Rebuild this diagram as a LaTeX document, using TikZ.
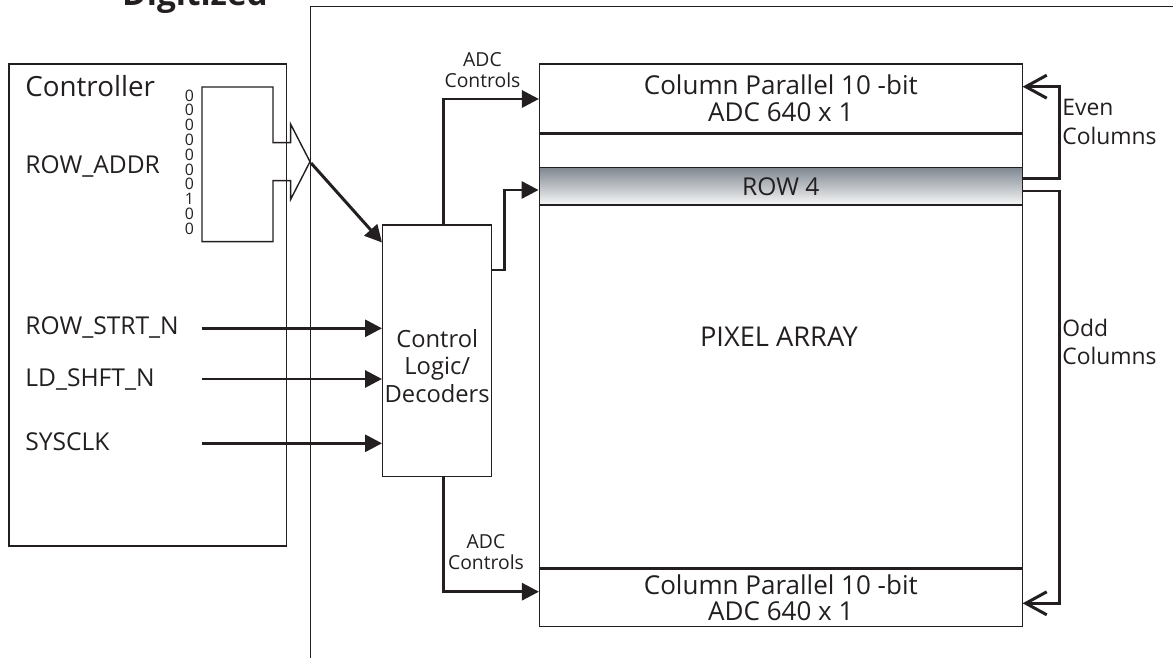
\documentclass[tikz,border=0pt]{standalone}
\usepackage{fontspec}
\setmainfont{Open Sans}
\usepackage{tikz}
\usetikzlibrary{positioning,arrows.meta}
\definecolor{rowgray}{RGB}{128,136,145}
\definecolor{ink}{RGB}{35,31,32}

\begin{document}
\begin{tikzpicture}[
    color=ink,
    blk/.style={draw=ink, line width=0.8pt, inner sep=0pt},
    sig/.style={line width=1.7pt, -{Triangle[length=0.34cm,width=0.34cm]}},
    colsig/.style={line width=1.7pt, -{Straight Barb[length=0.42cm,width=0.46cm]}},
    lbl/.style={anchor=west, inner sep=0pt, font=\fontsize{14}{17}\selectfont},
    small/.style={align=center, inner sep=0pt, font=\fontsize{11}{12}\selectfont},
    mid/.style={align=center, inner sep=0pt, font=\fontsize{14.8}{15}\selectfont}]
    \useasboundingbox (0,0) rectangle (23.46,13.16);

    \node[anchor=base, inner sep=0pt, font=\fontsize{19}{22}\selectfont\bfseries] (title) at (3.9,13.04) {Digitized};
    \draw[line width=0.9pt] (6.21,-0.2) -- (6.21,13.03) -- (23.7,13.03);

    % controller side
    \node[blk, minimum width=5.55cm, minimum height=9.64cm] (ctrl) at (2.955,7.06) {};
    \node[lbl, font=\fontsize{15.8}{18}\selectfont] (ctrlname) at (0.5,11.43) {Controller};
    \node[lbl] (addr) at (0.5,9.84) {ROW\_ADDR};
    \node[lbl] (rowstrt) at (0.5,6.62) {ROW\_STRT\_N};
    \node[lbl] (ldshft) at (0.5,5.57) {LD\_SHFT\_N};
    \node[lbl] (sysclk) at (0.5,4.33) {SYSCLK};
    \node[align=center, inner sep=0pt, font=\fontsize{9}{8.4}\selectfont] (bits) at (3.79,9.92)
        {0\\0\\0\\0\\0\\0\\0\\1\\0\\0};
    \draw[line width=0.8pt] (4.04,11.42) -- (5.46,11.42) -- (5.46,10.306) -- (5.814,10.306)
        -- (5.814,10.674) -- (6.20,9.926) -- (5.814,9.174) -- (5.814,9.546) -- (5.46,9.546)
        -- (5.46,8.326) -- (4.04,8.326) -- cycle;
    \coordinate (bustip) at (6.22,9.90);

    % control logic
    \node[blk, minimum width=2.18cm, minimum height=5.034cm] (logic) at (8.744,6.143) {};
    \node[align=center, inner sep=0pt, font=\fontsize{13.5}{15.6}\selectfont] (logictxt) at (8.744,5.84)
        {Control\\Logic/\\Decoders};
    \draw[sig] (bustip) -- (logic.117.6);
    \coordinate (rsin) at (4.034,6.594);
    \coordinate (ldin) at (4.034,5.58);
    \coordinate (clkin) at (4.034,4.294);
    \draw[sig] (rsin) -- (rsin -| logic.west);
    \draw[sig] (ldin) -- (ldin -| logic.west);
    \draw[sig] (clkin) -- (clkin -| logic.west);

    % pixel array
    \node[blk, minimum width=9.66cm, minimum height=11.254cm] (pix) at (15.616,6.253) {};
    \node[mid, minimum width=9.66cm, minimum height=1.374cm] (adctop) at (15.616,11.193)
        {Column Parallel 10 -bit\\ADC 640 x 1};
    \node[mid, minimum width=9.66cm, minimum height=1.148cm] (adcbot) at (15.616,1.2)
        {Column Parallel 10 -bit\\ADC 640 x 1};
    \draw[line width=1.7pt] (adctop.south west) -- (adctop.south east);
    \draw[line width=1.7pt] (adcbot.north west) -- (adcbot.north east);
    \node[blk, top color=rowgray, bottom color=white!94!rowgray, minimum width=9.66cm,
        minimum height=0.746cm, font=\fontsize{14}{15}\selectfont] (row) at (15.616,9.433) {ROW 4};
    \node[mid, font=\fontsize{15.5}{16}\selectfont] (pixtxt) at (15.58,6.42) {PIXEL ARRAY};

    \draw[sig] ([xshift=0.122cm]logic.north) |- ([yshift=-0.013cm]adctop.west);
    \draw[sig] ([xshift=0.122cm]logic.south) |- ([yshift=0.126cm]adcbot.west);
    \draw[sig] ([yshift=1.617cm]logic.east) -- ++(0.232,0) |- ([yshift=-0.073cm]row.west);
    \node[small] (adclbl1) at (9.65,11.76) {ADC\\Controls};
    \node[small] (adclbl2) at (9.72,2.12) {ADC\\Controls};

    % column read-out loops
    \draw[colsig] ([yshift=0.161cm]row.east) -- ++(0.734,0) |- ([yshift=0.233cm]adctop.east);
    \draw[colsig] ([yshift=-0.093cm]row.east) -- ++(0.734,0) |- ([yshift=-0.106cm]adcbot.east);
    \node[lbl, align=left, font=\fontsize{13}{16}\selectfont] (even) at (21.24,10.72) {Even\\Columns};
    \node[lbl, align=left, font=\fontsize{13}{16}\selectfont] (odd) at (21.24,6.32) {Odd\\Columns};
\end{tikzpicture}
\end{document}
